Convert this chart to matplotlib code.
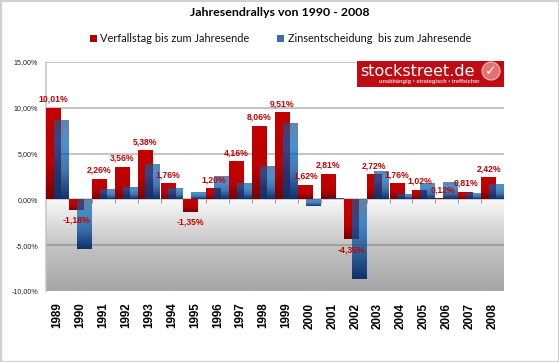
import numpy as np
import matplotlib
matplotlib.use("Agg")
import matplotlib.pyplot as plt
from matplotlib.patches import Rectangle, Ellipse
from matplotlib.colors import LinearSegmentedColormap

years = [1989, 1990, 1991, 1992, 1993, 1994, 1995, 1996, 1997, 1998,
         1999, 2000, 2001, 2002, 2003, 2004, 2005, 2006, 2007, 2008]
verfall = [10.01, -1.18, 2.26, 3.56, 5.38, 1.76, -1.35, 1.20, 4.16, 8.06,
           9.51, 1.62, 2.81, -4.35, 2.72, 1.76, 1.02, 0.12, 0.81, 2.42]
zins = [8.63, -5.43, 1.09, 1.38, 3.83, 1.27, 0.77, 2.59, 1.75, 3.60,
        8.38, -0.73, 0.18, -8.74, 3.06, 0.55, 1.82, 1.86, 0.66, 1.64]
yticks = [15, 10, 5, 0, -5, -10]

W, H = 559, 362
fig = plt.figure(figsize=(W / 100, H / 100), dpi=100, facecolor="white")
ax = fig.add_axes([46 / W, 1 - 291 / H, 458 / W, 229 / H])


def fx(px):
    return px / W


def fy(py):
    return 1 - py / H


red_cm = LinearSegmentedColormap.from_list("r", [(0, "#c40000"), (0.6, "#bd0000"), (1, "#780000")])
blue_cm = LinearSegmentedColormap.from_list("b", [
    (0, (38 / 255, 83 / 255, 135 / 255, 0.71)),
    (0.3, (0, 100 / 255, 190 / 255, 0.71)),
    (0.65, (0, 70 / 255, 148 / 255, 0.75)),
    (1, (0.07, 0.19, 0.42, 1.0))])
ramp = np.linspace(0, 1, 64).reshape(-1, 1)


def fill_bars(bars, cmap, z):
    # verlauf in jeden balken legen
    for p in bars:
        p.set_facecolor("none")
        p.set_edgecolor("none")
        x0, y0 = p.get_x(), p.get_y()
        x1, y1 = x0 + p.get_width(), y0 + p.get_height()
        im = ax.imshow(ramp, cmap=cmap, aspect="auto", origin="upper", zorder=z,
                       extent=[x0, x1, min(y0, y1), max(y0, y1)], interpolation="bilinear")
        im.set_clip_path(p)


x = np.arange(len(years))
w = 0.655
off = 0.172

# hintergrund unter null
bg = LinearSegmentedColormap.from_list("g", [(0, "#f8f8f8"), (0.5, "#c4c4c4"), (1, "#a6a6a6")])
ax.imshow(ramp, cmap=bg, aspect="auto", origin="upper", extent=[-0.5, 19.5, -10, 0], zorder=0)

for t in [15, 10, 5]:
    ax.axhline(t, color="#b4b4b4", lw=1.1, zorder=1)
ax.axhline(-5, color="#9a9a9a", lw=1.2, zorder=1)
ax.axhline(-10, color="#8f8578", lw=0.8, ls=":", zorder=1)

b1 = ax.bar(x - off, verfall, w, zorder=3)
b2 = ax.bar(x + off, zins, w, zorder=4)
fill_bars(b1, red_cm, 3)
fill_bars(b2, blue_cm, 4)

ax.axhline(0, color="#c4c4c4", lw=1.2, zorder=2)
ax.vlines(np.arange(len(years)) + 0.5, -0.35, 0, color="#a0a0a0", lw=0.8, zorder=2)

for xi, v in zip(x, verfall):
    lab = f"{v:.2f}%".replace(".", ",")
    ax.annotate(lab, (xi - off, v), xytext=(0, 6.2 if v > 0 else -7.4), textcoords="offset points",
                ha="center", va="center", color="#c80000", fontsize=6.2, fontweight="bold",
                family="Liberation Sans", zorder=6)

ax.set_xlim(-0.5, 19.5)
ax.set_ylim(-10, 15)
ax.set_xticks(x)
ax.set_xticklabels(years, rotation=90, fontsize=8.4, fontweight="bold", family="Liberation Sans", color="black")
ax.tick_params(axis="x", length=0, pad=8.4)
ax.set_yticks(yticks)
ax.set_yticklabels([f"{t},00%" for t in yticks], fontsize=5.1, family="Liberation Sans", color="#222222")
ax.tick_params(axis="y", length=0, pad=5.5)
for s in ["top", "right", "bottom"]:
    ax.spines[s].set_visible(False)
ax.spines["left"].set_color("#c4c4c4")
ax.spines["left"].set_linewidth(1.1)

# titel und legende
fig.text(fx(279.5), fy(13), "Jahresendrallys von 1990 - 2008", ha="center", va="center",
         fontsize=8.9, fontweight="bold", family="Lato", color="black")
fig.add_artist(Rectangle((fx(90), fy(42)), 6.5 / W, 7 / H, transform=fig.transFigure, fc="#b00000", ec="none"))
fig.add_artist(Rectangle((fx(277), fy(42)), 7 / W, 7 / H, transform=fig.transFigure, fc="#3a70a8", ec="none"))
fig.text(fx(100), fy(38), "Verfallstag bis zum Jahresende", ha="left", va="center",
         fontsize=7.9, family="Lato", color="#111111")
fig.text(fx(288), fy(38), "Zinsentscheidung  bis zum Jahresende", ha="left", va="center",
         fontsize=7.85, family="Lato", color="#111111")

# logo
fig.add_artist(Rectangle((fx(357), fy(87)), 147 / W, 26 / H, transform=fig.transFigure, fc="#c00a14", ec="none", zorder=8))
fig.text(fx(360), fy(71), "stockstreet.de", ha="left", va="center", color="white", fontsize=11.5,
         family="DejaVu Sans", zorder=9)
fig.text(fx(429), fy(82), "unabhängig • strategisch • treffsicher", ha="center", va="center", color="#f2d0d0",
         fontsize=4.1, fontweight="bold", family="Liberation Sans", zorder=9)
fig.add_artist(Ellipse((fx(491), fy(71)), 18 / W, 18 / H, transform=fig.transFigure, fc="#e87070", ec="#f4c0c0",
                       lw=0.8, zorder=9))
fig.text(fx(491), fy(71), "\u2713", ha="center", va="center", color="white", fontsize=10, fontweight="bold",
         family="DejaVu Sans", zorder=10)

# rahmen
fig.add_artist(Rectangle((0.5 / W, 0.5 / H), (W - 1) / W, (H - 1) / H, transform=fig.transFigure,
                         fc="none", ec="#d0d0d0", lw=1.6))

fig.savefig("out.png", dpi=100)
